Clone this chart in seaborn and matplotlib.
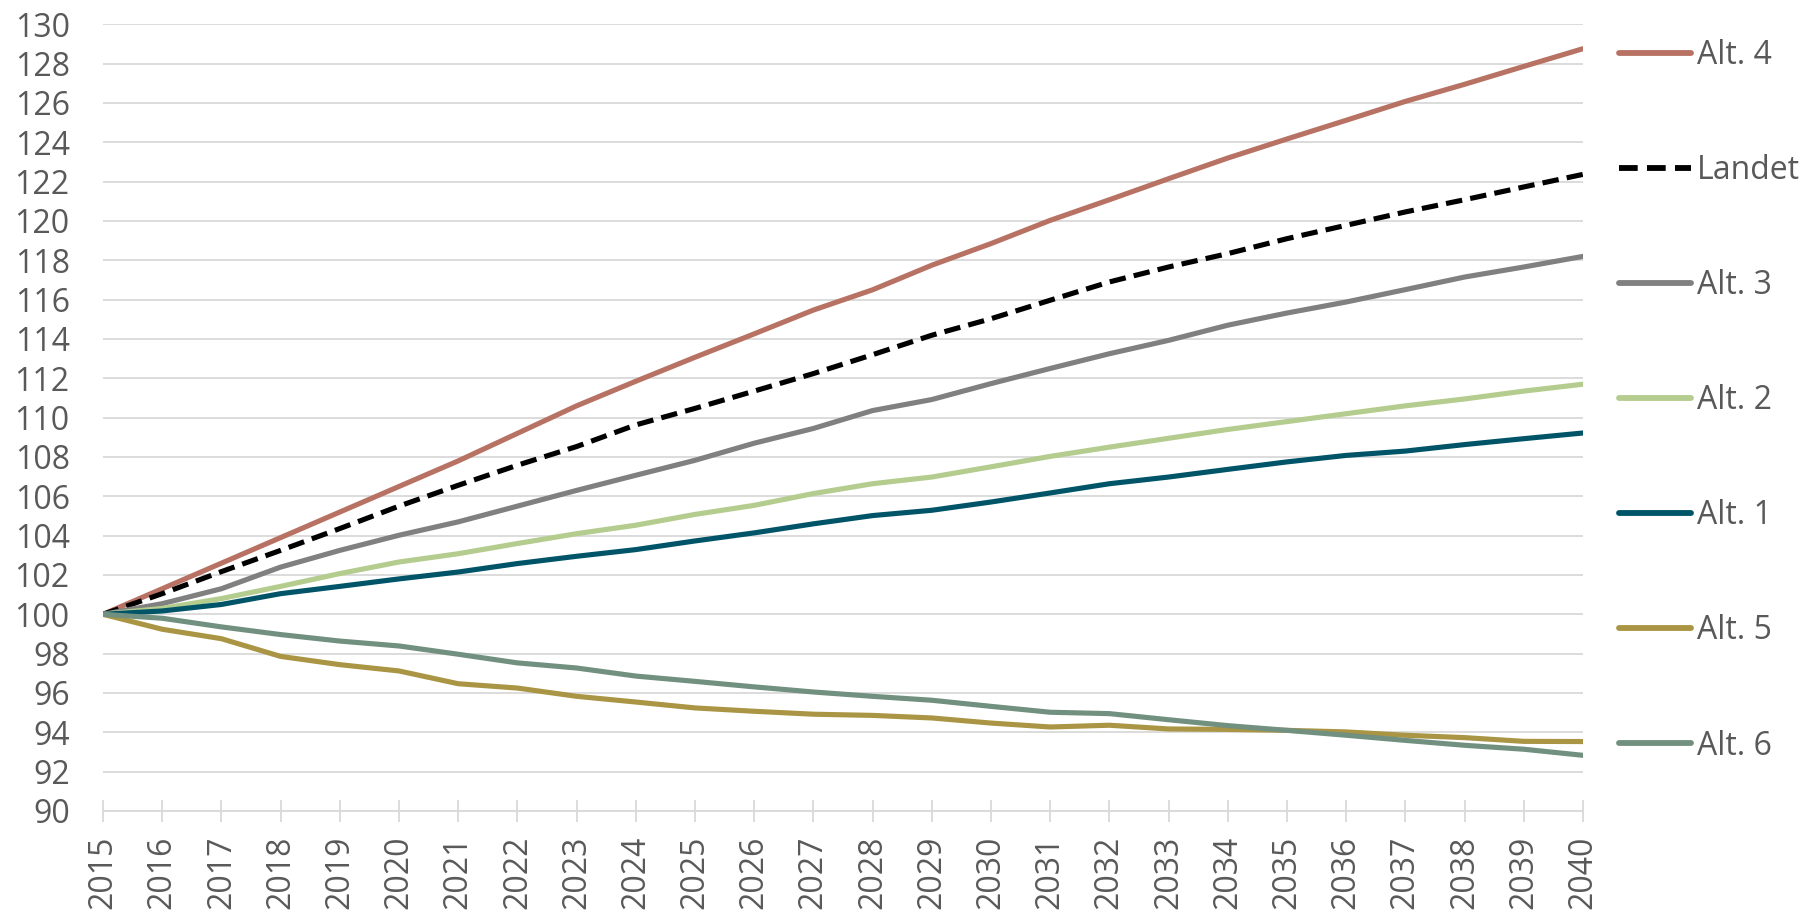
import numpy as np
import pandas as pd
import seaborn as sns
import matplotlib
matplotlib.use("Agg")
import matplotlib.pyplot as plt

years = list(range(2015, 2041))

alt4 = [100, 101.3, 102.6, 103.9, 105.2, 106.5, 107.8, 109.2, 110.6, 111.85,
        113.07, 114.26, 115.47, 116.5, 117.75, 118.85, 120.03, 121.08, 122.15, 123.2,
        124.17, 125.12, 126.08, 126.95, 127.86, 128.76]
landet = [100, 101.05, 102.17, 103.25, 104.36, 105.5, 106.56, 107.58, 108.53, 109.63,
          110.47, 111.35, 112.24, 113.2, 114.19, 115.03, 115.97, 116.9, 117.66, 118.34,
          119.1, 119.78, 120.46, 121.08, 121.73, 122.37]
alt3 = [100, 100.54, 101.3, 102.4, 103.25, 104.02, 104.7, 105.5, 106.3, 107.07,
        107.83, 108.7, 109.45, 110.36, 110.92, 111.73, 112.5, 113.25, 113.93, 114.7,
        115.32, 115.88, 116.51, 117.15, 117.66, 118.2]
alt2 = [100, 100.3, 100.8, 101.42, 102.07, 102.66, 103.08, 103.6, 104.1, 104.53,
        105.08, 105.54, 106.14, 106.64, 106.98, 107.5, 108.03, 108.5, 108.95, 109.4,
        109.8, 110.2, 110.6, 110.95, 111.35, 111.7]
alt1 = [100, 100.17, 100.5, 101.05, 101.42, 101.8, 102.15, 102.58, 102.95, 103.29,
        103.73, 104.14, 104.6, 105.02, 105.29, 105.71, 106.17, 106.64, 106.98, 107.37,
        107.75, 108.08, 108.3, 108.63, 108.93, 109.22]
alt5 = [100, 99.24, 98.76, 97.86, 97.44, 97.12, 96.47, 96.25, 95.83, 95.54,
        95.24, 95.07, 94.92, 94.86, 94.73, 94.47, 94.27, 94.36, 94.17, 94.15,
        94.1, 94.02, 93.85, 93.73, 93.54, 93.53]
alt6 = [100, 99.8, 99.36, 98.97, 98.64, 98.39, 97.97, 97.53, 97.27, 96.86,
        96.59, 96.31, 96.05, 95.83, 95.63, 95.32, 95.02, 94.95, 94.64, 94.34,
        94.1, 93.85, 93.59, 93.34, 93.14, 92.83]

series_names = ["Alt. 4", "Landet", "Alt. 3", "Alt. 2", "Alt. 1", "Alt. 5", "Alt. 6"]
series_values = [alt4, landet, alt3, alt2, alt1, alt5, alt6]
colors = ["#B87264", "#000000", "#808080", "#B4CC8E", "#005468", "#A99543", "#71907F"]

df = pd.concat(
    [pd.DataFrame({"year": years, "value": vals, "series": name})
     for name, vals in zip(series_names, series_values)],
    ignore_index=True,
)

sns.set_style("white")
plt.rcParams["font.family"] = ["Open Sans", "DejaVu Sans"]
text_color = "#595959"
grid_color = "#D9D9D9"

fig = plt.figure(figsize=(18.07, 9.11), dpi=100)
ax = fig.add_axes([0.057, 0.1098, 0.819, 0.8635])

palette = dict(zip(series_names, colors))
dashes = {n: "" for n in series_names}
dashes["Landet"] = (3.2, 1.6)

sns.lineplot(data=df, x="year", y="value", hue="series", style="series",
             hue_order=series_names, style_order=series_names,
             palette=palette, dashes=dashes, linewidth=3.7, ax=ax)

ax.set_xlim(2015, 2040)
ax.set_ylim(90, 130)
ax.set_yticks(range(90, 131, 2))
ax.set_xticks(years)
ax.set_xticklabels([str(y) for y in years], rotation=90)
ax.set_xlabel("")
ax.set_ylabel("")
ax.grid(axis="y", color=grid_color, linewidth=1.3)
ax.set_axisbelow(True)
for side in ["top", "right", "left"]:
    ax.spines[side].set_visible(False)
ax.spines["bottom"].set_color(grid_color)
ax.spines["bottom"].set_linewidth(1.3)
ax.tick_params(axis="y", length=0, pad=24, labelsize=23, labelcolor=text_color)
ax.tick_params(axis="x", direction="inout", length=16, width=1.3, color=grid_color,
               pad=10, labelsize=23, labelcolor=text_color, bottom=True)

old = ax.get_legend()
handles = old.legend_handles
labels = [t.get_text() for t in old.get_texts()]
old.remove()
leg = ax.legend(handles, labels, loc="upper left", bbox_to_anchor=(1619 / 1807, 1 - 39 / 911),
                bbox_transform=fig.transFigure, frameon=False, fontsize=23,
                labelspacing=2.57, handlelength=2.25, handletextpad=0.2,
                borderpad=0, borderaxespad=0)
for t in leg.get_texts():
    t.set_color(text_color)
for h in leg.legend_handles:
    h.set_linewidth(4.2)

fig.savefig("out.png", dpi=100)
